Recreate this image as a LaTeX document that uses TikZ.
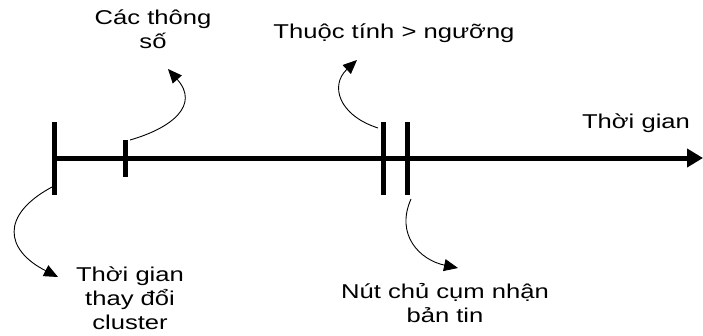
\documentclass[tikz,border=0pt]{standalone}
\usepackage{fontspec}
\setmainfont{Liberation Sans}[FakeStretch=1.28]
\usetikzlibrary{arrows.meta}
\tikzset{
  lbl/.style={font=\fontsize{20pt}{24pt}\selectfont, inner sep=0pt, align=center, anchor=base},
  tick/.style={line width=5pt},
  axis/.style={line width=5pt, -{Triangle[length=16pt,width=18pt]}},
  callout/.style={line width=0.9pt, -{Triangle[length=14pt,width=12pt]}}
}
\begin{document}
\begin{tikzpicture}[x=1pt,y=-1pt]
\useasboundingbox (0,0) rectangle (703,335);
% axis
\coordinate (start) at (54,158);
\coordinate (tip) at (703,158);
\draw[axis] (start) -- (tip);
% ticks
\coordinate (t1a) at (54,122); \coordinate (t1b) at (54,195);
\coordinate (t2a) at (125,140); \coordinate (t2b) at (125,177);
\coordinate (t3a) at (383,122); \coordinate (t3b) at (383,195);
\coordinate (t4a) at (407,122); \coordinate (t4b) at (407,195);
\draw[tick] (t1a) -- (t1b);
\draw[tick] (t2a) -- (t2b);
\draw[tick] (t3a) -- (t3b);
\draw[tick] (t4a) -- (t4b);
% labels (base anchor = baseline of last line)
\node[lbl] (params) at (153,48) {Các thông\\số};
\node[lbl] (attr) at (394,38) {Thuộc tính > ngưỡng};
\node[lbl] (time) at (636,128) {Thời gian};
\node[lbl] (change) at (130,329) {Thời gian\\thay đổi\\cluster};
\node[lbl] (recv) at (445,322) {Nút chủ cụm nhận\\bản tin};
% callout endpoints
\coordinate (c1s) at (130,140); \coordinate (c1e) at (168,69);
\coordinate (c2s) at (52,187);  \coordinate (c2e) at (58,277);
\coordinate (c3s) at (378,128); \coordinate (c3e) at (357,60);
\coordinate (c4s) at (411,199); \coordinate (c4e) at (458,268);
\draw[callout] (c1s) .. controls (172,128) and (200,105) .. (c1e);
\draw[callout] (c2s) .. controls (0,215) and (5,250) .. (c2e);
\draw[callout] (c3s) .. controls (338,115) and (330,85) .. (c3e);
\draw[callout] (c4s) .. controls (395,235) and (420,260) .. (c4e);
\end{tikzpicture}
\end{document}
